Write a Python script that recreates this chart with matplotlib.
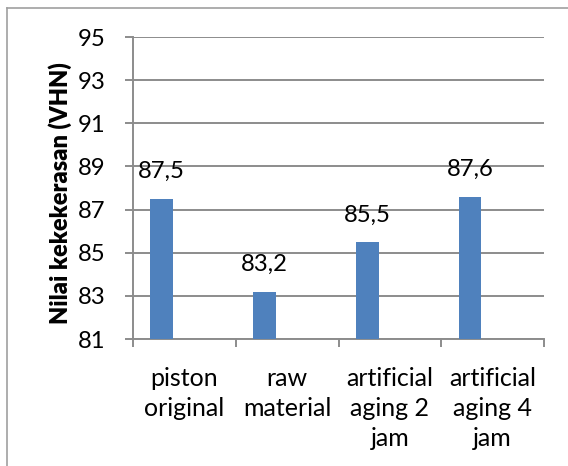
import matplotlib
matplotlib.use("Agg")
import matplotlib.pyplot as plt
from matplotlib.lines import Line2D

# values
categories = ["piston\noriginal", "raw\nmaterial", "artificial\naging 2\njam", "artificial\naging 4\njam"]
hardness = [87.5, 83.2, 85.5, 87.6]
y_ticks = [81, 83, 85, 87, 89, 91, 93, 95]

bar_color = "#4F81BD"
line_color = "#8C8C8C"

plt.rcParams["font.family"] = ["Lato", "DejaVu Sans"]

W, H = 568, 466
fig = plt.figure(figsize=(W / 100, H / 100), dpi=100)
ax = fig.add_axes([133 / W, 1 - 339 / H, (544 - 133) / W, (339 - 37) / H])

x = list(range(len(categories)))
bars = ax.bar([i - 0.22 for i in x], hardness, width=0.22, bottom=0,
              color=bar_color, zorder=3)

ax.set_ylim(81, 95)
ax.set_xlim(-0.5, len(categories) - 0.5)
ax.set_yticks(y_ticks)
ax.set_yticklabels([str(t) for t in y_ticks], fontsize=17.2)
ax.yaxis.grid(True, color=line_color, linewidth=1.4, zorder=0)

# category boundary ticks, labels sit between them
ax.set_xticks([i - 0.5 for i in range(len(categories) + 1)])
ax.set_xticklabels([])
ax.set_xticks(x, minor=True)
ax.set_xticklabels(categories, minor=True, fontsize=18, linespacing=1.38)
ax.tick_params(axis="x", which="minor", length=0, pad=20)
ax.tick_params(axis="both", which="major", length=6, width=1.4, color=line_color)
ax.tick_params(axis="y", pad=14)

for s in ["top", "right"]:
    ax.spines[s].set_visible(False)
for s in ["left", "bottom"]:
    ax.spines[s].set_color(line_color)
    ax.spines[s].set_linewidth(1.4)

for b, v in zip(bars, hardness):
    ax.annotate(f"{v:.1f}".replace(".", ","),
                (b.get_x() + b.get_width() / 2, v),
                xytext=(0, 19.5), textcoords="offset points",
                ha="center", va="center", fontsize=17.2)

fig.text(60 / W, 1 - 193.5 / H, "Nilai kekekerasan (VHN)", rotation=90,
         ha="center", va="center", fontsize=17, fontweight="heavy")

# chart frame, cut off on the right and bottom as in the reference
fig.add_artist(Line2D([7 / W, 7 / W], [0, 1 - 8 / H], color="#A0A0A0", linewidth=1.2))
fig.add_artist(Line2D([7 / W, 1], [1 - 8 / H, 1 - 8 / H], color="#A0A0A0", linewidth=1.2))

fig.savefig("out.png", dpi=100)
